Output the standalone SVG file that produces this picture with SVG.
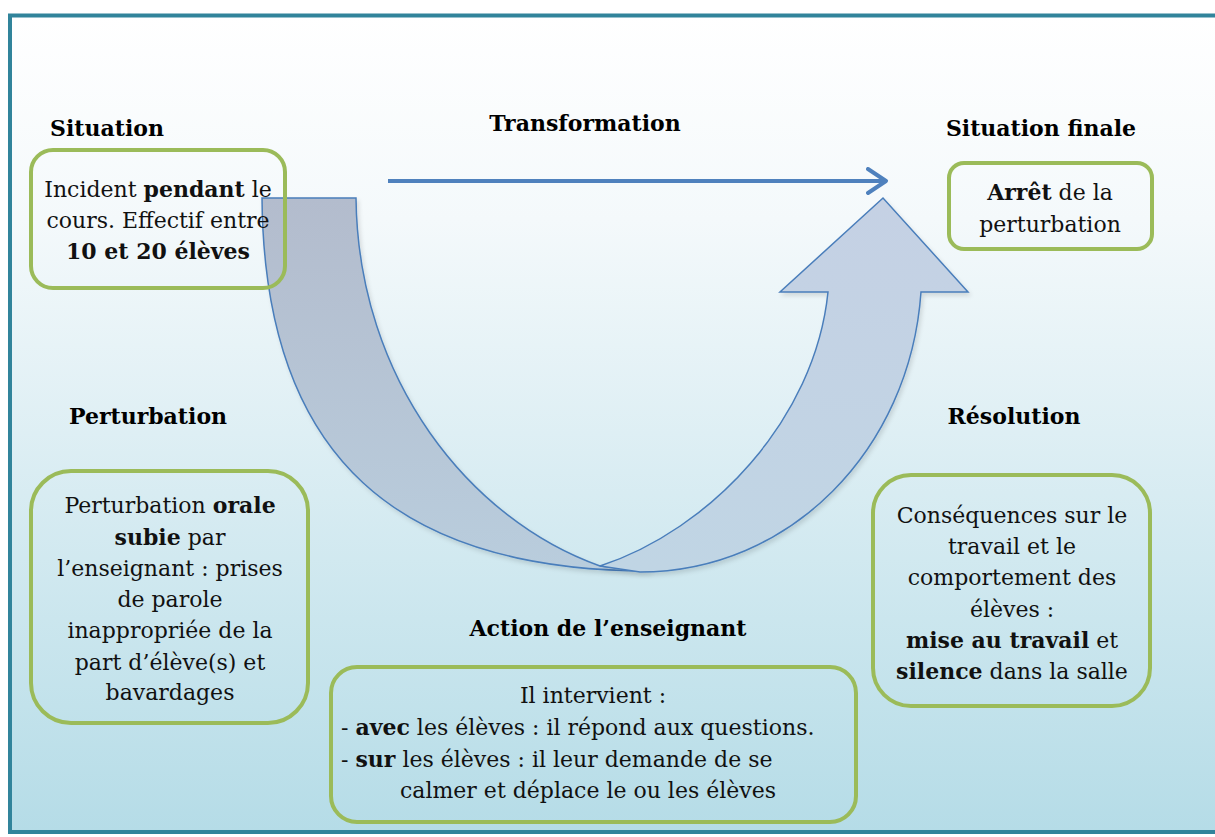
<svg xmlns="http://www.w3.org/2000/svg" width="1215" height="837" viewBox="0 0 1215 837">
  <defs>
    <linearGradient id="bg" x1="0" y1="0" x2="0" y2="1">
      <stop offset="0" stop-color="#ffffff"/>
      <stop offset="0.25" stop-color="#f4f9fb"/>
      <stop offset="1" stop-color="#b5dce7"/>
    </linearGradient>
    <linearGradient id="leftArrow" x1="0" y1="198" x2="0" y2="572" gradientUnits="userSpaceOnUse">
      <stop offset="0" stop-color="#b3bccd"/>
      <stop offset="1" stop-color="#b9cddd"/>
    </linearGradient>
    <linearGradient id="rightArrow" x1="0" y1="198" x2="0" y2="572" gradientUnits="userSpaceOnUse">
      <stop offset="0" stop-color="#c5d1e4"/>
      <stop offset="1" stop-color="#c0d5e4"/>
    </linearGradient>
    <filter id="shadow" x="-10%" y="-10%" width="130%" height="130%">
      <feDropShadow dx="2" dy="3" stdDeviation="2" flood-color="#000" flood-opacity="0.12"/>
    </filter>
    <marker id="chev" viewBox="0 0 12 14" refX="10" refY="7" markerWidth="6" markerHeight="7" markerUnits="strokeWidth" orient="auto">
      <path d="M1,1 L10,7 L1,13" fill="none" stroke="#4f81bd" stroke-width="2" stroke-linecap="round" stroke-linejoin="round"/>
    </marker>
  </defs>
  <style>
    .box { fill: none; stroke: #9bbb59; stroke-width: 4; }
    .hdr { font-family: "DejaVu Serif", "Liberation Serif", serif; font-weight: bold; font-size: 22px; fill: #000; text-anchor: middle; }
    .txt { font-family: "DejaVu Serif", "Liberation Serif", serif; font-size: 22px; fill: #111; }
    .c { text-anchor: middle; }
    .b { font-weight: bold; }
    .arr { stroke: #4a7ebb; stroke-width: 1.5; stroke-linejoin: miter; }
  </style>

  <rect x="0" y="0" width="1215" height="837" fill="#ffffff"/>
  <rect id="frame" x="10" y="15.5" width="1210" height="816.5" fill="url(#bg)" stroke="#31849b" stroke-width="4"/>

  <g id="connectors">
    <path id="u-left" class="arr" fill="url(#leftArrow)" filter="url(#shadow)"
      d="M262,198 L356,198 C358,380 470,520 600,566 L650,571 C400,571 264,460 262,198 Z"/>
    <path id="u-right" class="arr" fill="url(#rightArrow)" filter="url(#shadow)"
      d="M600,566 C710,530 815,420 828,292 L780,292 L883,198 L968,292 L921,292 C910,450 790,572 640,572 Z"/>
    <line id="transformation-arrow" x1="388" y1="181" x2="886" y2="181" stroke="#4f81bd" stroke-width="4" marker-end="url(#chev)"/>
  </g>

  <g id="situation">
    <text class="hdr" x="107" y="136">Situation</text>
    <rect class="box" x="31" y="150" width="254" height="138" rx="22"/>
    <text class="txt c" x="158" y="197">Incident <tspan class="b">pendant</tspan> le</text>
    <text class="txt c" x="158" y="228">cours. Effectif entre</text>
    <text class="txt c b" x="158" y="259">10 et 20 élèves</text>
  </g>

  <g id="transformation">
    <text class="hdr" x="585" y="131">Transformation</text>
  </g>

  <g id="situation-finale">
    <text class="hdr" x="1041" y="136">Situation finale</text>
    <rect class="box" x="949" y="163" width="203" height="86" rx="15"/>
    <text class="txt c" x="1050" y="200"><tspan class="b">Arrêt</tspan> de la</text>
    <text class="txt c" x="1050" y="232">perturbation</text>
  </g>

  <g id="perturbation">
    <text class="hdr" x="148" y="424">Perturbation</text>
    <rect class="box" x="31" y="471" width="277" height="252" rx="40"/>
    <text class="txt c" x="170" y="513">Perturbation <tspan class="b">orale</tspan></text>
    <text class="txt c" x="170" y="545"><tspan class="b">subie</tspan> par</text>
    <text class="txt c" x="170" y="576">l’enseignant : prises</text>
    <text class="txt c" x="170" y="607">de parole</text>
    <text class="txt c" x="170" y="638">inappropriée de la</text>
    <text class="txt c" x="170" y="670">part d’élève(s) et</text>
    <text class="txt c" x="170" y="700">bavardages</text>
  </g>

  <g id="resolution">
    <text class="hdr" x="1014" y="424">Résolution</text>
    <rect class="box" x="873" y="475" width="277" height="231" rx="38"/>
    <text class="txt c" x="1012" y="523">Conséquences sur le</text>
    <text class="txt c" x="1012" y="554">travail et le</text>
    <text class="txt c" x="1012" y="585">comportement des</text>
    <text class="txt c" x="1012" y="617">élèves :</text>
    <text class="txt c" x="1012" y="648"><tspan class="b">mise au travail</tspan> et</text>
    <text class="txt c" x="1012" y="679"><tspan class="b">silence</tspan> dans la salle</text>
  </g>

  <g id="action">
    <text class="hdr" x="608" y="636">Action de l’enseignant</text>
    <rect class="box" x="331" y="667" width="525" height="155" rx="26"/>
    <text class="txt c" x="593" y="703">Il intervient :</text>
    <text class="txt" x="341" y="735">- <tspan class="b">avec</tspan> les élèves : il répond aux questions.</text>
    <text class="txt" x="341" y="767">- <tspan class="b">sur</tspan> les élèves : il leur demande de se</text>
    <text class="txt" x="400" y="798">calmer et déplace le ou les élèves</text>
  </g>
</svg>
